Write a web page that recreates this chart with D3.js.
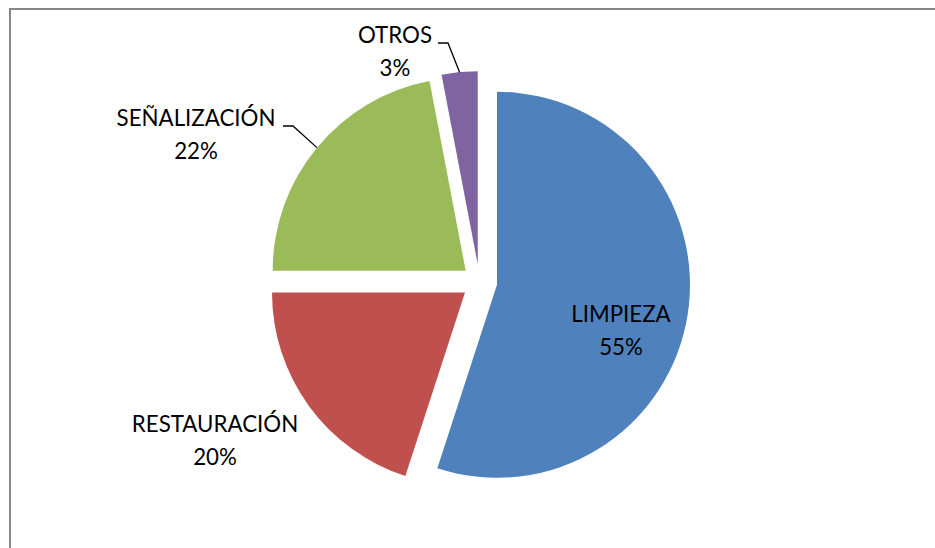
<!DOCTYPE html>
<html>
<head>
<meta charset="UTF-8">
<script src="https://cdn.jsdelivr.net/npm/d3@7"></script>
<style>
body { margin: 0; background: #fff; }
svg { display: block; }
.lbl { font-family: Lato, "Open Sans", sans-serif; font-size: 22.3px; fill: #000; }
</style>
</head>
<body>
<div id="chart"></div>
<script>
// datos del gráfico
const categorias = ["LIMPIEZA", "RESTAURACIÓN", "SEÑALIZACIÓN", "OTROS"];
const valores = [55, 20, 22, 3];
const colores = ["#4F81BD", "#C0504D", "#9BBB59", "#8064A2"];

const width = 935, height = 548;
const cx = 479.4, cy = 282, radius = 193, explode = 17.8;

// posicion de las etiquetas (centro del texto, linea base de la primera linea)
const etiquetas = [
  {x: 621, y: 322, inside: true},
  {x: 215, y: 432},
  {x: 196, y: 126, leader: 283},
  {x: 395, y: 43, leader: 438}
];

const svg = d3.select("#chart").append("svg")
  .attr("width", width)
  .attr("height", height);

// borde del area del grafico
svg.append("rect")
  .attr("x", 10).attr("y", 9)
  .attr("width", 940).attr("height", 560)
  .attr("fill", "none")
  .attr("stroke", "#868686")
  .attr("stroke-width", 2);

const pie = d3.pie().sort(null).value(d => d);
const arcs = pie(valores);
const arc = d3.arc().innerRadius(0).outerRadius(radius);

const g = svg.append("g").attr("transform", "translate(" + cx + "," + cy + ")");

function offset(d, r) {
  const a = (d.startAngle + d.endAngle) / 2;
  return [Math.sin(a) * r, -Math.cos(a) * r];
}

g.selectAll("path")
  .data(arcs)
  .enter().append("path")
  .attr("d", arc)
  .attr("fill", (d, i) => colores[i])
  .attr("transform", d => {
    const o = offset(d, explode);
    return "translate(" + o[0] + "," + o[1] + ")";
  });

// lineas guia
arcs.forEach((d, i) => {
  const e = etiquetas[i];
  if (e.leader === undefined) return;
  const o = offset(d, explode + radius);
  const yl = e.y;
  svg.append("polyline")
    .attr("points", [[e.leader, yl], [e.leader + 10, yl], [cx + o[0], cy + o[1]]].map(p => p.join(",")).join(" "))
    .attr("fill", "none")
    .attr("stroke", "#000")
    .attr("stroke-width", 1.3);
});

// textos
arcs.forEach((d, i) => {
  const e = etiquetas[i];
  const t = svg.append("text")
    .attr("class", "lbl")
    .attr("text-anchor", "middle")
    .attr("x", e.x).attr("y", e.y);
  t.append("tspan").attr("x", e.x).text(categorias[i]);
  t.append("tspan").attr("x", e.x).attr("dy", 32.5)
    .text(Math.round(d.value / d3.sum(valores) * 100) + "%");
});
</script>
</body>
</html>
